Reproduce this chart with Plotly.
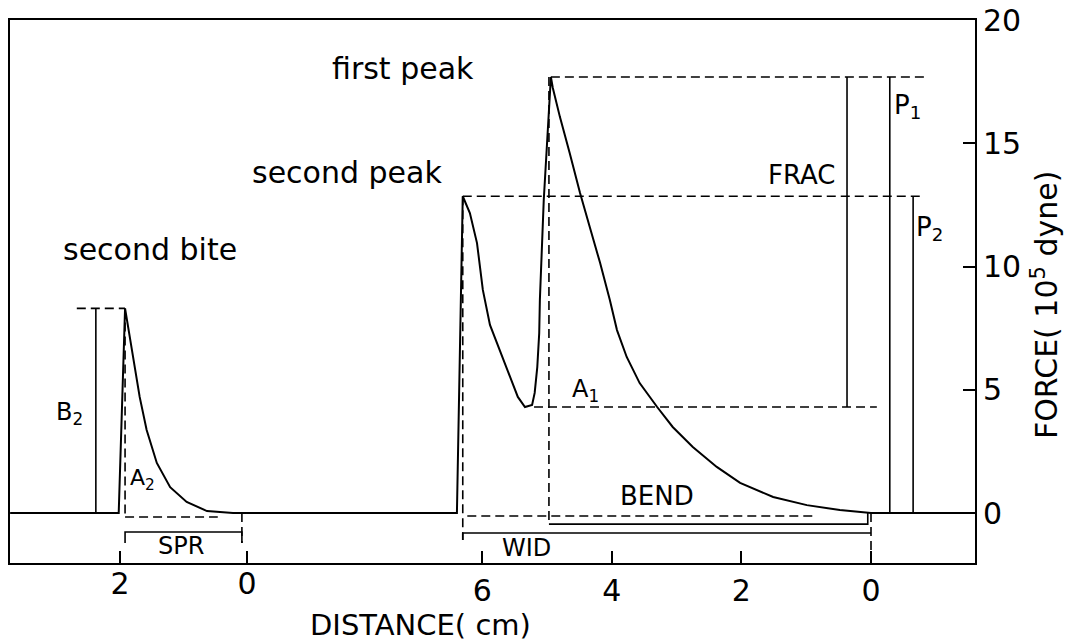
import plotly.graph_objects as go

# ---------------- data ----------------
# first bite record (right-hand part): distance in cm (0 = end of bite), force in 1e5 dyne
bite1_dist = [9.63, 6.39, 6.30, 6.19, 6.08, 5.99, 5.88, 5.77, 5.57, 5.45, 5.34,
              5.23, 5.19, 5.15, 5.12, 5.11, 5.05, 5.00, 4.94, 4.91, 4.80, 4.65,
              4.49, 4.34, 4.18, 4.03, 3.92, 3.77, 3.57, 3.30, 3.06, 2.75, 2.38,
              2.02, 1.51, 0.99, 0.48, 0.00, -1.60]
bite1_force = [0.00, 0.00, 12.85, 12.17, 10.95, 9.05, 7.63, 6.90, 5.52, 4.71, 4.30,
               4.38, 4.87, 5.92, 7.30, 8.64, 12.70, 15.13, 17.69, 17.24, 16.06, 14.60,
               12.98, 11.60, 10.14, 8.64, 7.42, 6.33, 5.27, 4.30, 3.49, 2.68, 1.87,
               1.22, 0.65, 0.32, 0.12, 0.00, 0.00]

# second bite record (left-hand part)
bite2_dist = [3.73, 2.02, 1.92, 1.87, 1.80, 1.69, 1.58, 1.42, 1.21, 0.95, 0.63, 0.22, 0.00]
bite2_force = [0.00, 0.00, 8.30, 7.55, 6.33, 4.71, 3.37, 2.03, 1.05, 0.45, 0.08, 0.00, 0.00]

# schematic measurement columns to the right of zero (cm)
frac_x, p1_x, p2_x = 0.37, -0.29, -0.65
b2_x, b2_left = 2.38, 2.68            # B2 bar and start of its dashed cap
# levels of the brackets under the baseline (force units)
lvl_base, lvl_bend, lvl_wid, lvl_tip = -0.12, -0.45, -0.81, -1.10
lvl_spr_dash, lvl_spr, lvl_spr_tip = -0.16, -0.77, -1.22

x_ticks_right = [6, 4, 2, 0]
x_ticks_left = [2, 0]
y_ticks = [0, 5, 10, 15, 20]

# ---------------- derived quantities ----------------
i_p1 = bite1_force.index(max(bite1_force))
p1_val, p1_pos = bite1_force[i_p1], bite1_dist[i_p1]
p2_val, p2_pos = bite1_force[2], bite1_dist[2]
a1_val = min(bite1_force[2:i_p1])
b2_val, b2_pos = max(bite2_force), bite2_dist[bite2_force.index(max(bite2_force))]

fig = go.Figure()
solid = dict(color="black", width=2)
thin = dict(color="black", width=1.6)
dash = dict(color="black", width=1.6, dash="9px,5px")


def seg(xs, ys, line, axis="x"):
    fig.add_trace(go.Scatter(x=xs, y=ys, mode="lines", line=line, xaxis=axis,
                             yaxis="y", showlegend=False, hoverinfo="skip"))


# records
seg(bite1_dist, bite1_force, solid)
seg(bite2_dist, bite2_force, solid, "x2")

# ---- first bite guides ----
seg([p1_pos, -0.86], [p1_val, p1_val], dash)                 # first peak level
seg([p2_pos, -0.79], [p2_val, p2_val], dash)                 # second peak level
seg([5.20, -0.09], [a1_val, a1_val], dash)                   # A1 level
seg([frac_x, frac_x], [p1_val, a1_val], thin)                # FRAC
seg([p1_x, p1_x], [p1_val, 0], thin)                         # P1
seg([p2_x, p2_x], [p2_val, 0], thin)                         # P2
seg([p1_pos + 0.03, p1_pos + 0.03], [p1_val, lvl_bend], dash)  # drop from first peak
seg([p2_pos, p2_pos], [p2_val, lvl_tip], dash)               # drop from second peak
seg([p2_pos - 0.07, 0.83], [lvl_base, lvl_base], dash)       # dashed base line
seg([p1_pos + 0.03, 0.05, 0.05], [lvl_bend, lvl_bend, 0], thin)  # BEND bracket
seg([p2_pos, p2_pos, 0], [lvl_tip, lvl_wid, lvl_wid], thin)  # WID bracket
seg([0, 0], [0, -2.03], dash)                                # zero marker

# ---- second bite guides ----
seg([b2_left, b2_pos], [b2_val, b2_val], dash, "x2")
seg([b2_x, b2_x], [b2_val, 0], thin, "x2")
seg([b2_pos, b2_pos], [b2_val, lvl_spr_dash], dash, "x2")
seg([b2_pos, 0.46], [lvl_spr_dash, lvl_spr_dash], dash, "x2")
seg([b2_pos, b2_pos, 0.08, 0.08], [lvl_spr_tip, lvl_spr, lvl_spr, lvl_spr_tip], thin, "x2")
seg([0.08, 0.08], [0, lvl_spr_tip], dash, "x2")

FONT = "DejaVu Sans"


def label(text, x, y, size, xref="x"):
    fig.add_annotation(text=text, x=x, y=y, xref=xref, yref="y", showarrow=False,
                       font=dict(family=FONT, size=size, color="black"),
                       xanchor="center", yanchor="middle")


label("first peak", 7.22, 18.05, 30)
label("second peak", 8.09, 13.83, 30)
label("second bite", 1.53, 10.67, 30, "x2")
label("FRAC", 1.08, 13.7, 26)
label("P<sub>1</sub>", -0.56, 16.5, 26)
label("P<sub>2</sub>", -0.91, 11.56, 26)
label("A<sub>1</sub>", 4.41, 4.95, 24)
label("BEND", 3.30, 0.69, 26)
label("WID", 5.31, -1.42, 24)
label("A<sub>2</sub>", 1.65, 1.34, 22, "x2")
label("B<sub>2</sub>", 2.79, 4.02, 24, "x2")
label("SPR", 1.04, -1.34, 24, "x2")

fig.add_annotation(text="DISTANCE( cm)", xref="paper", yref="paper", x=0.425, y=-0.114,
                   showarrow=False, font=dict(family=FONT, size=29, color="black"),
                   xanchor="center", yanchor="middle")
fig.add_annotation(text="FORCE( 10<sup>5</sup> dyne)", xref="paper", yref="paper",
                   x=1.0725, y=0.475, textangle=-90, showarrow=False,
                   font=dict(family=FONT, size=30, color="black"),
                   xanchor="center", yanchor="middle")

axis_common = dict(showgrid=False, zeroline=False, ticks="inside", ticklen=12,
                   tickwidth=1.6, tickcolor="black", automargin=False,
                   ticklabeloverflow="allow",
                   tickfont=dict(family=FONT, size=30, color="black"))

fig.update_layout(
    width=1068, height=643,
    margin=dict(l=10, r=93, t=20, b=80, autoexpand=False),
    paper_bgcolor="white", plot_bgcolor="white",
    showlegend=False,
    xaxis=dict(range=[13.287, -1.605], tickvals=x_ticks_right,
               ticktext=[str(v) for v in x_ticks_right],
               showline=True, mirror=True, linecolor="black", linewidth=2,
               **axis_common),
    xaxis2=dict(range=[3.732, -11.465], overlaying="x", side="bottom",
                tickvals=x_ticks_left, ticktext=[str(v) for v in x_ticks_left],
                showline=False, **axis_common),
    yaxis=dict(range=[-2.028, 20], side="right", tickvals=y_ticks,
               ticktext=[str(v) for v in y_ticks],
               showline=True, mirror=True, linecolor="black", linewidth=2,
               **axis_common),
)

# remove the default page margin so the figure fills the window exactly
fig.write_html("out.html", config={"displayModeBar": False},
               post_script="document.body.style.margin='0px';document.body.style.overflow='hidden';")
